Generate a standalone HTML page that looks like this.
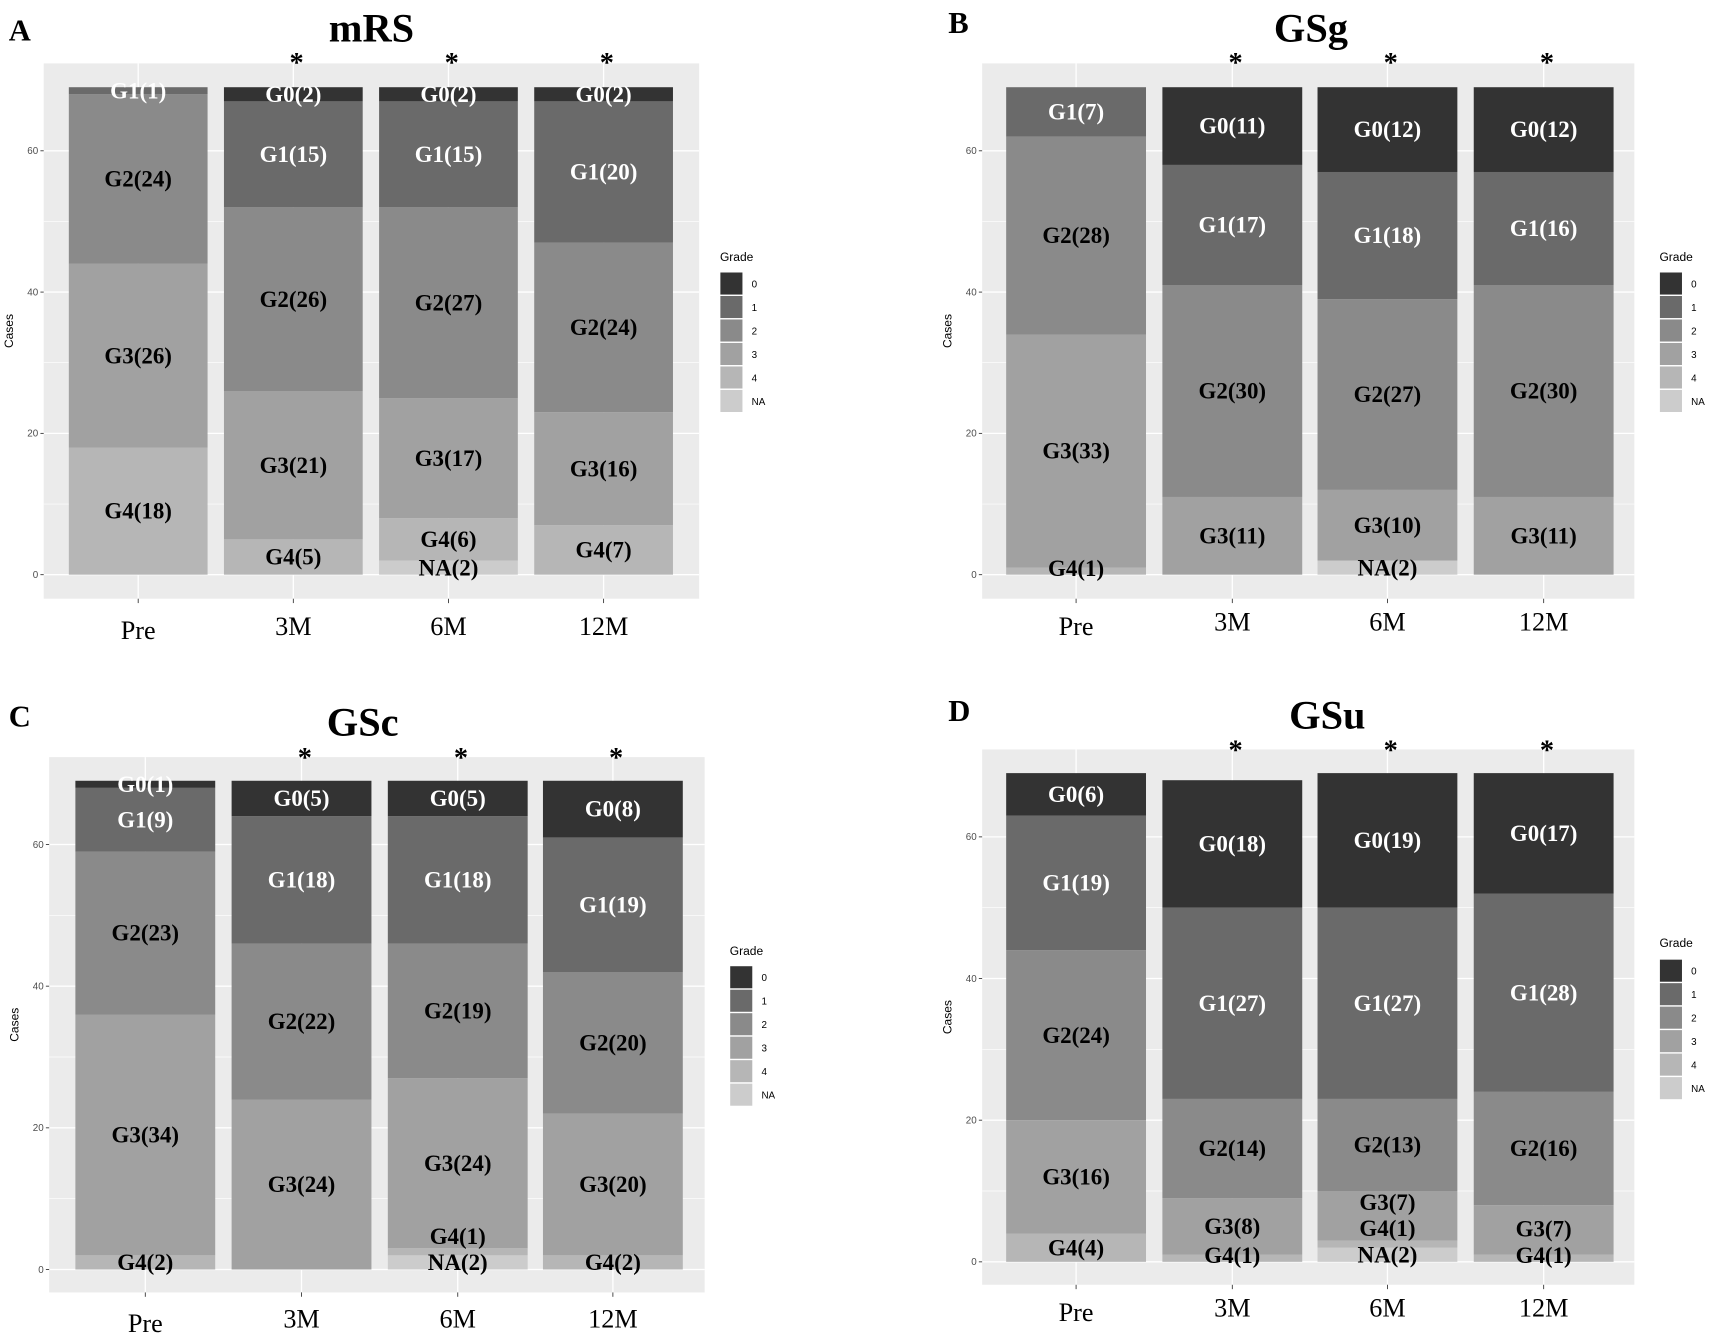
<!DOCTYPE html>
<html><head><meta charset="utf-8"><style>
html,body{margin:0;padding:0;background:#fff;}
svg{display:block;}
</style></head>
<body>
<svg id="fig" width="1713" height="1339" viewBox="0 0 1568 1225.6" xmlns="http://www.w3.org/2000/svg"></svg>
<script>
const categories = ["Pre","3M","6M","12M"];
const grades = ["0","1","2","3","4","NA"];
// values per chart: [category][grade 0,1,2,3,4,NA]
const mrsValues = [[0,1,24,26,18,0],[2,15,26,21,5,0],[2,15,27,17,6,2],[2,20,24,16,7,0]];
const gsgValues = [[0,7,28,33,1,0],[11,17,30,11,0,0],[12,18,27,10,0,2],[12,16,30,11,0,0]];
const gscValues = [[1,9,23,34,2,0],[5,18,22,24,0,0],[5,18,19,24,1,2],[8,19,20,20,2,0]];
const gsuValues = [[6,19,24,16,4,0],[18,27,14,8,1,0],[19,27,13,7,1,2],[17,28,16,7,1,0]];
const yTicks = [0,20,40,60];
const stars = [false,true,true,true];

const colors = ["#333333","#6a6a6a","#8a8a8a","#a1a1a1","#b6b6b6","#cccccc"];
const NS = "http://www.w3.org/2000/svg";
const svg = document.getElementById("fig");
function mk(tag, attrs, parent, text){
  const e = document.createElementNS(NS, tag);
  for (const k in attrs) e.setAttribute(k, attrs[k]);
  if (text !== undefined) e.textContent = text;
  (parent||svg).appendChild(e);
  return e;
}
const panels = [
  {id:"mrs", title:"mRS", letter:"A", vals:mrsValues, bg:[40,58,640,548], y0:526, y60:138, barL:[63,205,347,489], bw:127, legX:659, gradeY:235, keyY:249, tx:340, ty:38, lx:8, ly:37, xly:585, sy:66},
  {id:"gsg", title:"GSg", letter:"B", vals:gsgValues, bg:[899,58,1496,548], y0:526, y60:138, barL:[921,1064,1206,1349], bw:128, legX:1519, gradeY:235, keyY:249, tx:1200, ty:38, lx:868, ly:30, xly:581, sy:66},
  {id:"gsc", title:"GSc", letter:"C", vals:gscValues, bg:[45,693,645,1183], y0:1162, y60:773, barL:[69,212,355,497], bw:128, legX:668, gradeY:870, keyY:884, tx:332, ty:673, lx:8, ly:665, xly:1219, sy:702},
  {id:"gsu", title:"GSu", letter:"D", vals:gsuValues, bg:[899,686,1496,1176], y0:1155, y60:766, barL:[921,1064,1206,1349], bw:128, legX:1519, gradeY:863, keyY:878, tx:1215, ty:667, lx:868, ly:660, xly:1209, sy:695}
];
panels.forEach(p=>{
  const g = mk("g",{});
  
  
  const unit = (p.y0-p.y60)/60;
  const y = v => p.y0 - v*unit;
  const bg = mk("rect",{x:p.bg[0],y:p.bg[1],width:p.bg[2]-p.bg[0],height:p.bg[3]-p.bg[1],fill:"#ebebeb"},g);
  
  
  for (let v=10; v<=60; v+=20) mk("line",{x1:p.bg[0],x2:p.bg[2],y1:y(v),y2:y(v),stroke:"#fff","stroke-width":0.6},g);
  yTicks.forEach(v=>{
    mk("line",{x1:p.bg[0],x2:p.bg[2],y1:y(v),y2:y(v),stroke:"#fff","stroke-width":1.2},g);
    mk("line",{x1:p.bg[0]-3,x2:p.bg[0],y1:y(v),y2:y(v),stroke:"#333","stroke-width":0.8},g);
    const t = mk("text",{x:p.bg[0]-5,y:y(v)+3,"font-size":9,"text-anchor":"end",fill:"#4d4d4d","font-family":"Liberation Sans, sans-serif"},g,String(v));
    
    
  });
  const yt = mk("text",{x:0,y:0,"font-size":11,"text-anchor":"middle",fill:"#000","font-family":"Liberation Sans, sans-serif",transform:`translate(${p.bg[0]-28},${(p.bg[1]+p.bg[3])/2}) rotate(-90)`},g,"Cases");
  
  
  const labels = [];
  categories.forEach((c,i)=>{
    const cx = p.barL[i]+p.bw/2;
    mk("line",{x1:cx,x2:cx,y1:p.bg[1],y2:p.bg[3],stroke:"#fff","stroke-width":1.2},g);
    mk("line",{x1:cx,x2:cx,y1:p.bg[3],y2:p.bg[3]+4,stroke:"#333","stroke-width":0.8},g);
    const xl = mk("text",{x:cx,y:p.xly-(i?4:0),"font-size":24,"text-anchor":"middle",fill:"#000","font-family":"Liberation Serif, serif"},g,c);
    
    
    if (stars[i]) {
      const s = mk("text",{x:cx+3,y:p.sy,"font-size":26,"font-weight":"bold","text-anchor":"middle",fill:"#000","font-family":"Liberation Serif, serif"},g,"*");
      
      
    }
    let cum = 0;
    let prevC = null;
    for (let k=5;k>=0;k--){
      const v = p.vals[i][k];
      if (!v) continue;
      const r = mk("rect",{x:p.barL[i],y:y(cum+v),width:p.bw,height:v*unit,fill:colors[k]},g);
      
      
      let lc = y(cum+v/2);
      if (lc > p.y0-6) lc = p.y0-6;
      if (prevC !== null && lc > prevC-24) lc = prevC-24;
      prevC = lc;
      labels.push({x:cx, y:lc+7, k:k, text:(k===5?"NA":"G"+k)+"("+v+")"});
      cum += v;
    }
  });
  labels.forEach(L=>{
    const lbl = mk("text",{x:L.x,y:L.y,"font-size":21,"font-weight":"bold","text-anchor":"middle",fill:(L.k<=1?"#fff":"#000"),"font-family":"Liberation Serif, serif"},g,L.text);
    
    
  });
  const lg = mk("g",{},g);
  
  
  mk("text",{x:p.legX,y:p.gradeY+4,"font-size":11,fill:"#000","font-family":"Liberation Sans, sans-serif"},lg,"Grade");
  grades.forEach((gr,k)=>{
    const ky = p.keyY + k*21.5;
    const key = mk("rect",{x:p.legX,y:ky,width:21,height:21,fill:colors[k],stroke:"#fff","stroke-width":0.8},lg);
    
    
    mk("text",{x:p.legX+29,y:ky+14,"font-size":9,fill:"#000","font-family":"Liberation Sans, sans-serif"},lg,gr);
  });
  const tt = mk("text",{x:p.tx,y:p.ty,"font-size":37,"font-weight":"bold","text-anchor":"middle",fill:"#000","font-family":"Liberation Serif, serif"},g,p.title);
  
  
  const lt = mk("text",{x:p.lx,y:p.ly,"font-size":28,"font-weight":"bold",fill:"#000","font-family":"Liberation Serif, serif"},g,p.letter);
  
  
});
</script>
</body></html>
